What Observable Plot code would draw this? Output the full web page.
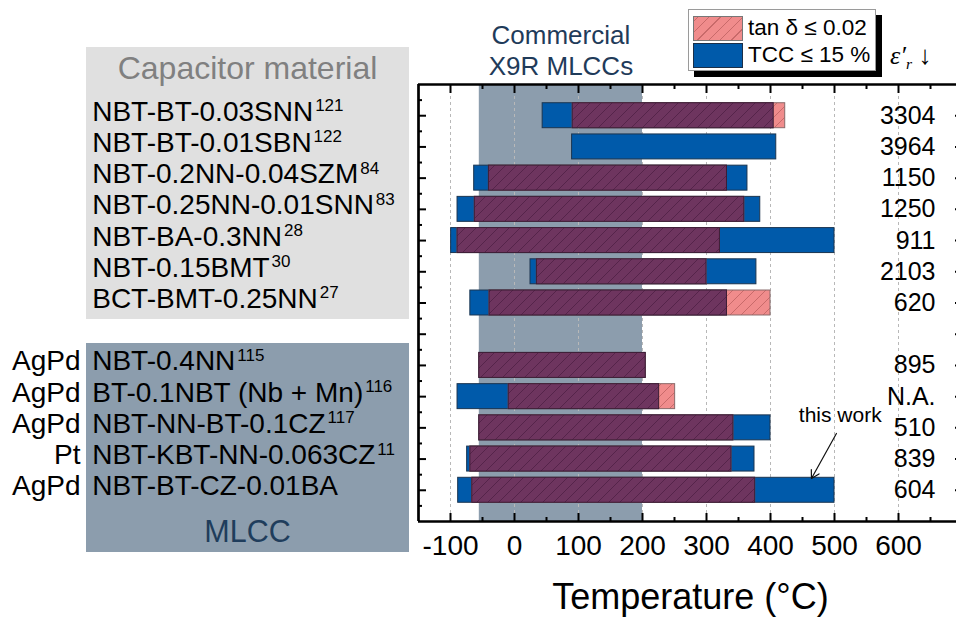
<!DOCTYPE html>
<html><head><meta charset="utf-8">
<script src="https://cdn.jsdelivr.net/npm/d3@7"></script>
<script src="https://cdn.jsdelivr.net/npm/@observablehq/plot@0.6"></script>
<style>
body{margin:0;background:#fff;font-family:"Liberation Sans",Arial,sans-serif;}
#wrap{position:relative;width:956px;height:617px;overflow:hidden;}
.abs{position:absolute;line-height:1;white-space:nowrap;}
#wrap svg{position:absolute;left:0;top:0;}
</style></head><body><div id="wrap">
<div class="abs" style="left:86px;top:47px;width:323px;height:272px;background:#e0e0e0"></div>
<div class="abs" style="left:86px;top:343px;width:323px;height:209px;background:#8c9dad"></div>
<div class="abs" style="left:86px;top:52px;width:323px;text-align:center;font-size:32px;color:#808080">Capacitor material</div>
<div class="abs" style="left:86px;top:516px;width:323px;text-align:center;font-size:30.5px;color:#1f3d5c">MLCC</div>
</div>
<script>
// ---- data ----
const rowPos = [1, 2, 3, 4, 5, 6, 7, 9, 10, 11, 12, 13];
const materials = ["NBT-BT-0.03SNN", "NBT-BT-0.01SBN", "NBT-0.2NN-0.04SZM", "NBT-0.25NN-0.01SNN", "NBT-BA-0.3NN", "NBT-0.15BMT", "BCT-BMT-0.25NN", "NBT-0.4NN", "BT-0.1NBT (Nb + Mn)", "NBT-NN-BT-0.1CZ", "NBT-KBT-NN-0.063CZ", "NBT-BT-CZ-0.01BA"];
const refs = ["121", "122", "84", "83", "28", "30", "27", "115", "116", "117", "11", ""];
const electrodes = ["", "", "", "", "", "", "", "AgPd", "AgPd", "AgPd", "Pt", "AgPd"];
const permittivity = ["3304", "3964", "1150", "1250", "911", "2103", "620", "895", "N.A.", "510", "839", "604"];
const tccLow  = [44, 90, -63, -89, -99, 25, -69, -55, -89, -55, -74, -88];
const tccHigh = [405, 409, 364, 384, 500, 378, 332, 205, 226, 400, 375, 500];
const tanLow  = [91, null, -40, -62, -89, 35, -39, -55, -9, -55, -69, -66];
const tanHigh = [423, null, 332, 359, 321, 300, 400, 205, 251, 342, 339, 376];
const commercialX9R = [{lo: -55, hi: 200, label: "Commercial\nX9R MLCCs"}];
const xTicks = [-100, 0, 100, 200, 300, 400, 500, 600];
const xMinorTicks = [-50, 50, 150, 250, 350, 450, 550, 650];
const yTicks = [1, 2, 3, 4, 5, 6, 7, 8, 9, 10, 11, 12, 13];
const yMinorTicks = [0.5, 1.5, 2.5, 3.5, 4.5, 5.5, 6.5, 7.5, 8.5, 9.5, 10.5, 11.5, 12.5, 13.5];
const annotations = [{label: "this work", x: 509, y: 10.8, ax1: 503, ay1: 11.18, ax2: 464, ay2: 12.62}];

const table = rowPos.map((r, i) => ({row: r, material: materials[i], ref: refs[i], electrode: electrodes[i], eps: permittivity[i],
  tccLo: tccLow[i], tccHi: tccHigh[i], tanLo: tanLow[i], tanHi: tanHigh[i]}));
const tanRows = table.filter(d => d.tanLo != null);
const overlap = tanRows.map(d => ({row: d.row, lo: Math.max(d.tccLo, d.tanLo), hi: Math.min(d.tccHi, d.tanHi)}));
const H = 0.4;
const tickAxis = (anchor, ticks, size, isX) => (isX ? Plot.axisX : Plot.axisY)({anchor, ticks, tickSize: size, tickFormat: () => "", strokeWidth: 2, label: null});

const plot = Plot.plot({
  width: 956, height: 617,
  marginLeft: 418, marginRight: -6, marginTop: 84, marginBottom: 96,
  x: {domain: [-150, 700]},
  y: {domain: [0, 14], reverse: true},
  style: {background: "transparent", fontFamily: "Liberation Sans, Arial, sans-serif", overflow: "visible"},
  marks: [
    Plot.rect(commercialX9R, {x1: "lo", x2: "hi", y1: () => 0, y2: () => 14, fill: "#8c9dad"}),
    Plot.ruleX(xTicks, {y1: () => 0, y2: () => 14, stroke: "#b8b8b8", strokeDasharray: "3,3", strokeWidth: 1}),
    Plot.rect(table, {x1: "tccLo", x2: "tccHi", y1: d => d.row - H, y2: d => d.row + H, fill: "#005aaa", stroke: "#1b3550", strokeWidth: 1}),
    Plot.rect(tanRows, {x1: "tanLo", x2: "tanHi", y1: d => d.row - H, y2: d => d.row + H, fill: "url(#hatchPink)", stroke: "#8a6a6a", strokeWidth: 1}),
    Plot.rect(overlap, {x1: "lo", x2: "hi", y1: d => d.row - H, y2: d => d.row + H, fill: "url(#hatchPurple)", stroke: "#3c1d36", strokeWidth: 1}),
    Plot.ruleX([-150, 700], {y1: () => 0, y2: () => 14, stroke: "black", strokeWidth: 2.7}),
    Plot.ruleY([0, 14], {x1: () => -150, x2: () => 700, stroke: "black", strokeWidth: 2.7}),
    Plot.axisX({anchor: "bottom", ticks: xTicks, tickSize: 0, tickPadding: 14, fontSize: 28, tickFormat: d => String(d), label: null}),
    tickAxis("bottom", xTicks, -8, true),
    tickAxis("bottom", xMinorTicks, -4, true),
    tickAxis("top", xTicks, -8, true),
    tickAxis("top", xMinorTicks, -4, true),
    tickAxis("left", yTicks, -8, false),
    tickAxis("left", yMinorTicks, -4, false),
    tickAxis("right", yTicks, -8, false),
    tickAxis("right", yMinorTicks, -4, false),
    Plot.text(table, {y: "row", text: "material", frameAnchor: "left", dx: -326.3, dy: -4, textAnchor: "start", fontSize: 28, fill: "black"}),
    Plot.text(table.filter(d => d.electrode), {y: "row", text: "electrode", frameAnchor: "left", dx: -338, dy: -4, textAnchor: "end", fontSize: 28, fill: "black"}),
    Plot.text(table, {y: "row", text: "eps", frameAnchor: "right", dx: -27, textAnchor: "end", fontSize: 25, fill: "black"}),
    Plot.text(commercialX9R, {x: d => (d.lo + d.hi) / 2, frameAnchor: "top", text: "label", lineAnchor: "bottom", dy: -10, fontSize: 26, lineHeight: 1.18, fill: "#1f3b5a"}),
    Plot.text(["Temperature (°C)"], {text: d => d, frameAnchor: "bottom", lineAnchor: "bottom", dy: 87, fontSize: 36, fill: "black"}),
    Plot.text(annotations, {x: "x", y: "y", text: "label", lineAnchor: "bottom", fontSize: 21, fill: "black"}),
    Plot.arrow(annotations, {x1: "ax1", y1: "ay1", x2: "ax2", y2: "ay2", stroke: "#111", strokeWidth: 1.2, headLength: 11, bend: 0})
  ]
});

// hatch patterns
const svgSel = d3.select(plot);
const defs = svgSel.insert("defs", ":first-child");
function hatch(id, bg, line) {
  const p = defs.append("pattern").attr("id", id).attr("patternUnits", "userSpaceOnUse").attr("width", 11).attr("height", 11);
  p.append("rect").attr("width", 11).attr("height", 11).attr("fill", bg);
  p.append("path").attr("d", "M-1,1 l2,-2 M0,11 l11,-11 M10,12 l2,-2").attr("stroke", line).attr("stroke-width", 1);
}
hatch("hatchPink", "#f08c8c", "#c86a6a");
hatch("hatchPurple", "#6e355f", "#55244a");

// superscript references
const refMap = new Map(table.map(d => [d.material, d.ref]));
plot.querySelectorAll("text").forEach(t => {
  const ref = refMap.get(t.textContent);
  if (!ref) return;
  const ts = document.createElementNS("http://www.w3.org/2000/svg", "tspan");
  ts.setAttribute("dx", "2");
  ts.setAttribute("dy", "-9.5");
  ts.setAttribute("font-size", "17");
  ts.textContent = ref;
  t.appendChild(ts);
});

const wrap = document.getElementById("wrap");
wrap.appendChild(plot);
wrap.insertAdjacentHTML("beforeend", `
<div class="abs" style="left:688px;top:9px;width:186px;height:60px;background:#fff;border:1px solid #9a9a9a;box-shadow:6px 6px 0 #000"></div>
<div class="abs" style="left:693px;top:16px;width:48px;height:23px;border:1px solid #777;background:repeating-linear-gradient(-45deg,#f08c8c 0 7px,#c86a6a 7px 8px)"></div>
<div class="abs" style="left:693px;top:43px;width:48px;height:23px;border:1px solid #1b2f48;background:#005aaa"></div>
<div class="abs" style="left:748px;top:17px;font-size:22.5px">tan δ ≤ 0.02</div>
<div class="abs" style="left:748px;top:43.7px;font-size:22.5px">TCC ≤ 15 %</div>
<div class="abs" style="left:890px;top:43px;font-size:26px;font-family:'Liberation Serif',serif"><i>ε′<span style="font-size:0.6em;vertical-align:-0.3em">r</span></i> ↓</div>
`);
</script></body></html>
